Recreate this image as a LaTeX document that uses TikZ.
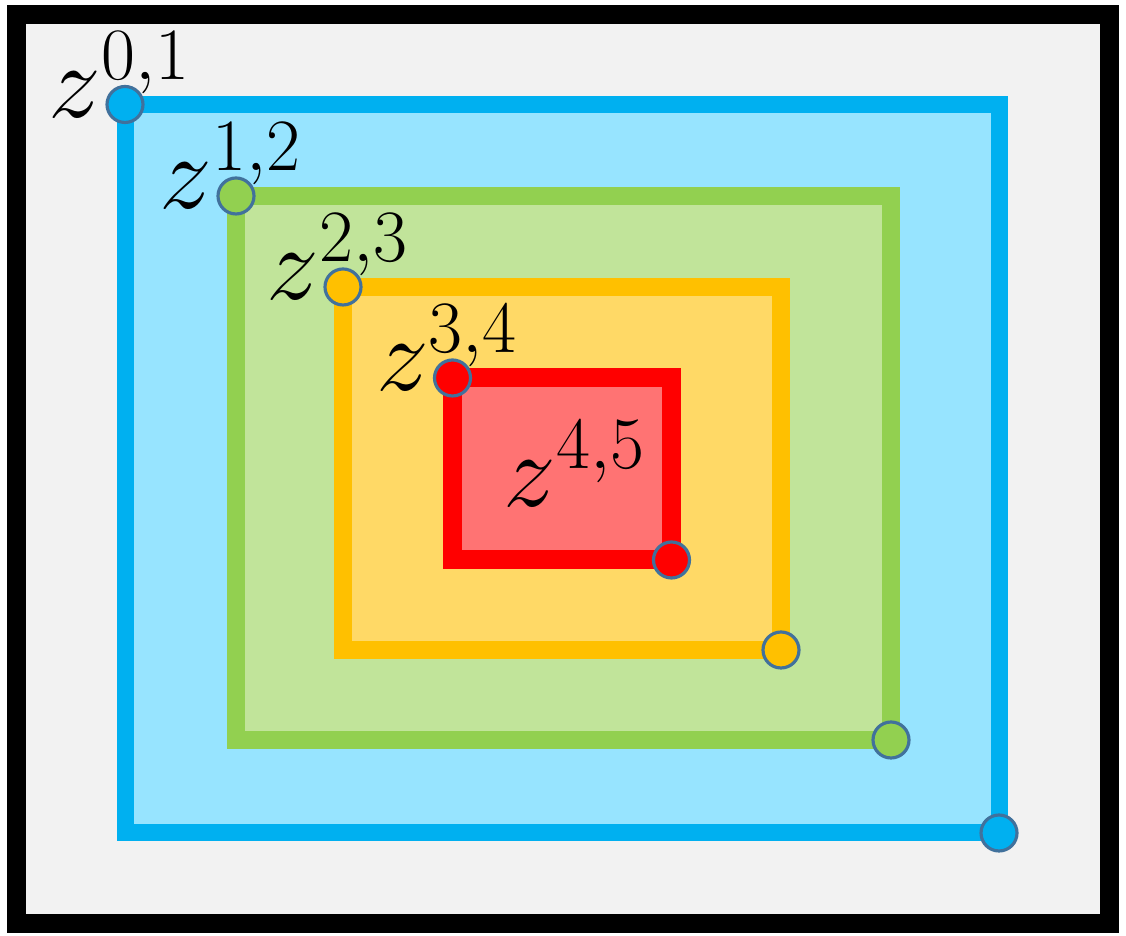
\RequirePackage{fix-cm}
\documentclass[tikz,border=0pt]{standalone}
\usetikzlibrary{positioning}
\definecolor{FrameGray}{HTML}{F2F2F2}
\definecolor{RingBlue}{HTML}{00B0F0}
\definecolor{FillBlue}{HTML}{97E4FF}
\definecolor{RingGreen}{HTML}{92D050}
\definecolor{FillGreen}{HTML}{C1E49A}
\definecolor{RingOrange}{HTML}{FFC000}
\definecolor{FillOrange}{HTML}{FFD966}
\definecolor{RingRed}{HTML}{FF0000}
\definecolor{FillRed}{HTML}{FF7373}
\definecolor{DotEdge}{HTML}{41719C}

\begin{document}
\begin{tikzpicture}[x=1cm,y=1cm,
    every node/.style={font=\fontsize{30}{36}\selectfont},
    dot/.style={circle, draw=DotEdge, line width=0.9pt, minimum size=0.36cm, inner sep=0pt},
    zlab/.style={anchor=base west, inner sep=0pt}]
        \useasboundingbox (0,0) rectangle (11.26,9.36);
        \draw[black, line width=0.19cm, fill=FrameGray] (0.165,0.12) rectangle (11.095,9.215);

        % nested rings, outer to inner
        \foreach \n/\col/\xa/\ya/\xb/\yb/\w/\lab in {01/Blue/1.25/8.315/9.99/1.03/0.17/{0,1},
            12/Green/2.36/7.40/8.91/1.96/0.18/{1,2},
            23/Orange/3.43/6.49/7.81/2.86/0.18/{2,3},
            34/Red/4.525/5.58/6.715/3.76/0.19/{3,4}} {
            \draw[Ring\col, fill=Fill\col, line width=\w cm] (\xa,\ya) rectangle (\xb,\yb);
            \node[dot, fill=Ring\col] (tl\n) at (\xa,\ya) {};
            \node[dot, fill=Ring\col] (br\n) at (\xb,\yb) {};
            \node[zlab] (z\n) at ([shift={(-0.77,-0.13)}]tl\n) {$z^{\lab}$};
        }
        \node[zlab] (z45) at (5.03,4.29) {$z^{4,5}$};
\end{tikzpicture}
\end{document}
